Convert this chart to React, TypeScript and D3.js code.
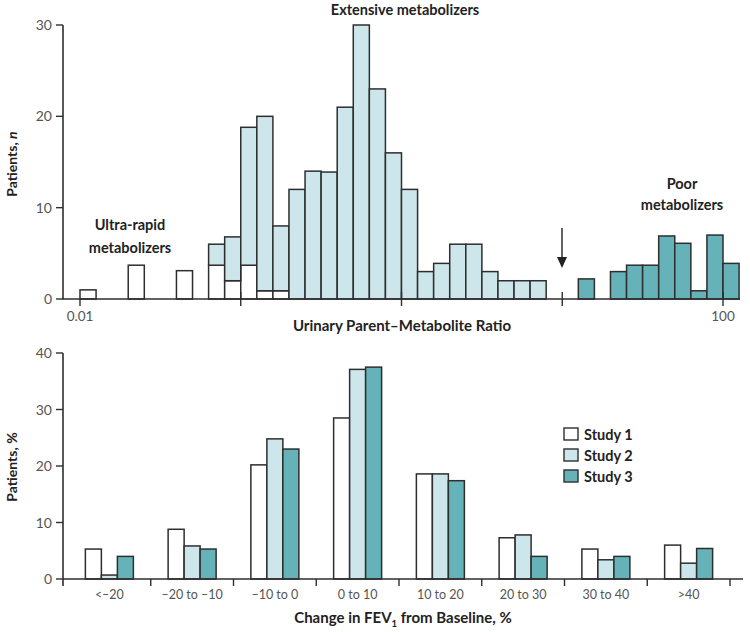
import React from 'react';
import * as d3 from 'd3';

// top panel: log10 lower edge of each 0.1-decade bin, with counts per study
const study1Bins = [-2.0, -1.7, -1.4, -1.2, -1.1, -1.0, -0.9, -0.8];
const study1Counts = [1, 3.7, 3.1, 3.7, 2, 3.7, 0.9, 0.9];

const study2Bins = [-1.2, -1.1, -1.0, -0.9, -0.8, -0.7, -0.6, -0.5, -0.4, -0.3, -0.2, -0.1, 0.0, 0.1, 0.2, 0.3, 0.4, 0.5, 0.6, 0.7, 0.8];
const study2Counts = [2.3, 4.8, 15.1, 19.1, 7.1, 12, 14, 13.9, 21, 30, 23, 16, 12, 3, 3.9, 6, 6, 3, 2, 2, 2];

const study3Bins = [1.1, 1.3, 1.4, 1.5, 1.6, 1.7, 1.8, 1.9, 2.0];
const study3Counts = [2.2, 3, 3.7, 3.7, 6.9, 6.1, 0.9, 7, 3.9];

const countTicks = [0, 10, 20, 30];
const ratioTicks = [0.01, 0.1, 1, 10, 100];
const ratioTickLabels = ['0.01', '', '', '', '100'];

// bottom panel
const fevCategories = ['<–20', '–20 to –10', '–10 to 0', '0 to 10', '10 to 20', '20 to 30', '30 to 40', '>40'];
const studies = ['Study 1', 'Study 2', 'Study 3'];
const study1Pct = [5.3, 8.8, 20.2, 28.5, 18.6, 7.3, 5.3, 6.0];
const study2Pct = [0.7, 5.85, 24.8, 37.1, 18.6, 7.8, 3.4, 2.8];
const study3Pct = [4.0, 5.3, 23.0, 37.5, 17.4, 4.0, 4.0, 5.4];
const pctTicks = [0, 10, 20, 30, 40];

const fills = ['#ffffff', '#cde6eb', '#65b2b8'];
const stroke = '#2e2e2e';
const font = 'Lato, "Open Sans", sans-serif';

export default function App() {
  // top
  const xTop = d3.scaleLog().domain([0.01, 100]).range([80, 723]);
  const yTop = d3.scaleLinear().domain([0, 30]).range([299, 25]);
  const binX = (lo: number) => xTop(Math.pow(10, lo));
  const binX1 = (lo: number) => xTop(Math.pow(10, lo + 0.1));

  const s1Lookup = new Map(study1Bins.map((b, i) => [b.toFixed(1), study1Counts[i]]));

  // bottom
  const xBot = d3.scaleBand().domain(fevCategories).range([68, 730]);
  const xInner = d3.scaleBand().domain(studies).range([0, 48]);
  const yBot = d3.scaleLinear().domain([0, 40]).range([579, 353]);
  const pctSeries = [study1Pct, study2Pct, study3Pct];

  return (
    <svg width={750} height={632} style={{ position: 'absolute', left: 0, top: 0, fontFamily: font }}>
      {/* ---------- top histogram ---------- */}
      <g>
        {study1Bins.map((b, i) => (
          <rect key={'s1' + i} x={binX(b)} width={binX1(b) - binX(b)} y={yTop(study1Counts[i])}
            height={yTop(0) - yTop(study1Counts[i])} fill={fills[0]} stroke={stroke} strokeWidth={1.5} />
        ))}
        {study2Bins.map((b, i) => {
          const base = s1Lookup.get(b.toFixed(1)) || 0;
          const top = base + study2Counts[i];
          return (
            <rect key={'s2' + i} x={binX(b)} width={binX1(b) - binX(b)} y={yTop(top)}
              height={yTop(base) - yTop(top)} fill={fills[1]} stroke={stroke} strokeWidth={1.5} />
          );
        })}
        {study3Bins.map((b, i) => (
          <rect key={'s3' + i} x={binX(b)} width={binX1(b) - binX(b)} y={yTop(study3Counts[i])}
            height={yTop(0) - yTop(study3Counts[i])} fill={fills[2]} stroke={stroke} strokeWidth={1.5} />
        ))}

        {/* axes */}
        <line x1={63} x2={63} y1={yTop(30)} y2={yTop(0)} stroke={stroke} strokeWidth={1.6} />
        <line x1={62} x2={740} y1={yTop(0)} y2={yTop(0)} stroke={stroke} strokeWidth={1.6} />
        {countTicks.map(t => (
          <g key={'yt' + t}>
            <line x1={56} x2={63} y1={yTop(t)} y2={yTop(t)} stroke={stroke} strokeWidth={1.4} />
            <text x={52} y={yTop(t) + 5} textAnchor="end" fontSize={14} fill="#555">{t}</text>
          </g>
        ))}
        {ratioTicks.map((t, i) => (
          <g key={'xt' + t}>
            <line x1={xTop(t)} x2={xTop(t)} y1={yTop(0) - (i === 0 ? 0 : 7)} y2={yTop(0) + 7}
              stroke={stroke} strokeWidth={1.4} />
            <text x={xTop(t)} y={yTop(0) + 22} textAnchor="middle" fontSize={13.5} fill="#555">{ratioTickLabels[i]}</text>
          </g>
        ))}

        {/* arrow marking antimode */}
        <line x1={562} x2={562} y1={228} y2={262} stroke="#222" strokeWidth={1.4} />
        <path d="M557,257 L562,268 L567,257 Z" fill="#222" />

        {/* annotations */}
        <text x={405} y={15} textAnchor="middle" fontSize={14.5} fontWeight={700} fill="#222">Extensive metabolizers</text>
        <text x={130} y={230} textAnchor="middle" fontSize={14.5} fontWeight={700} fill="#222">Ultra-rapid</text>
        <text x={130} y={253} textAnchor="middle" fontSize={14.5} fontWeight={700} fill="#222">metabolizers</text>
        <text x={682} y={189} textAnchor="middle" fontSize={14.5} fontWeight={700} fill="#222">Poor</text>
        <text x={682} y={210} textAnchor="middle" fontSize={14.5} fontWeight={700} fill="#222">metabolizers</text>
        <text x={402} y={331} textAnchor="middle" fontSize={15} fontWeight={700} fill="#222">Urinary Parent–Metabolite Ratio</text>
        <text transform="translate(17,164) rotate(-90)" textAnchor="middle" fontSize={14} fontWeight={700} fill="#222">
          Patients, <tspan fontStyle="italic">n</tspan>
        </text>
      </g>

      {/* ---------- bottom grouped bars ---------- */}
      <g>
        {fevCategories.map((c, ci) => (
          <g key={'cat' + ci} transform={`translate(${(xBot(c) || 0) + xBot.bandwidth() / 2 - 24},0)`}>
            {studies.map((s, si) => {
              const v = pctSeries[si][ci];
              return (
                <rect key={s} x={xInner(s)} width={xInner.bandwidth()} y={yBot(v)} height={yBot(0) - yBot(v)}
                  fill={fills[si]} stroke={stroke} strokeWidth={1.5} />
              );
            })}
          </g>
        ))}

        <line x1={63} x2={63} y1={yBot(40)} y2={yBot(0) + 7} stroke={stroke} strokeWidth={1.6} />
        <line x1={63} x2={743} y1={yBot(0)} y2={yBot(0)} stroke={stroke} strokeWidth={1.6} />
        {pctTicks.map(t => (
          <g key={'pt' + t}>
            <line x1={56} x2={63} y1={yBot(t)} y2={yBot(t)} stroke={stroke} strokeWidth={1.4} />
            <text x={52} y={yBot(t) + 5} textAnchor="end" fontSize={14} fill="#555">{t}</text>
          </g>
        ))}
        {fevCategories.map((c, ci) => (
          <g key={'bt' + ci}>
            <line x1={(xBot(c) || 0) + xBot.bandwidth()} x2={(xBot(c) || 0) + xBot.bandwidth()}
              y1={yBot(0)} y2={yBot(0) + 7} stroke={stroke} strokeWidth={1.4} />
            <text x={(xBot(c) || 0) + xBot.bandwidth() / 2} y={yBot(0) + 20} textAnchor="middle" fontSize={12.5} fill="#555">{c}</text>
          </g>
        ))}

        <text x={403} y={623} textAnchor="middle" fontSize={15} fontWeight={700} fill="#222">
          Change in FEV<tspan fontSize={9.5} dy={4}>1</tspan><tspan dy={-4}> from Baseline, %</tspan>
        </text>
        <text transform="translate(17,467) rotate(-90)" textAnchor="middle" fontSize={14} fontWeight={700} fill="#222">Patients, %</text>

        {/* legend */}
        {studies.map((s, i) => (
          <g key={'lg' + s} transform={`translate(564,${428 + i * 21})`}>
            <rect x={0} y={0} width={14} height={12} fill={fills[i]} stroke={stroke} strokeWidth={1.4} />
            <text x={20} y={12} fontSize={14.5} fontWeight={700} fill="#222">{s}</text>
          </g>
        ))}
      </g>
    </svg>
  );
}
